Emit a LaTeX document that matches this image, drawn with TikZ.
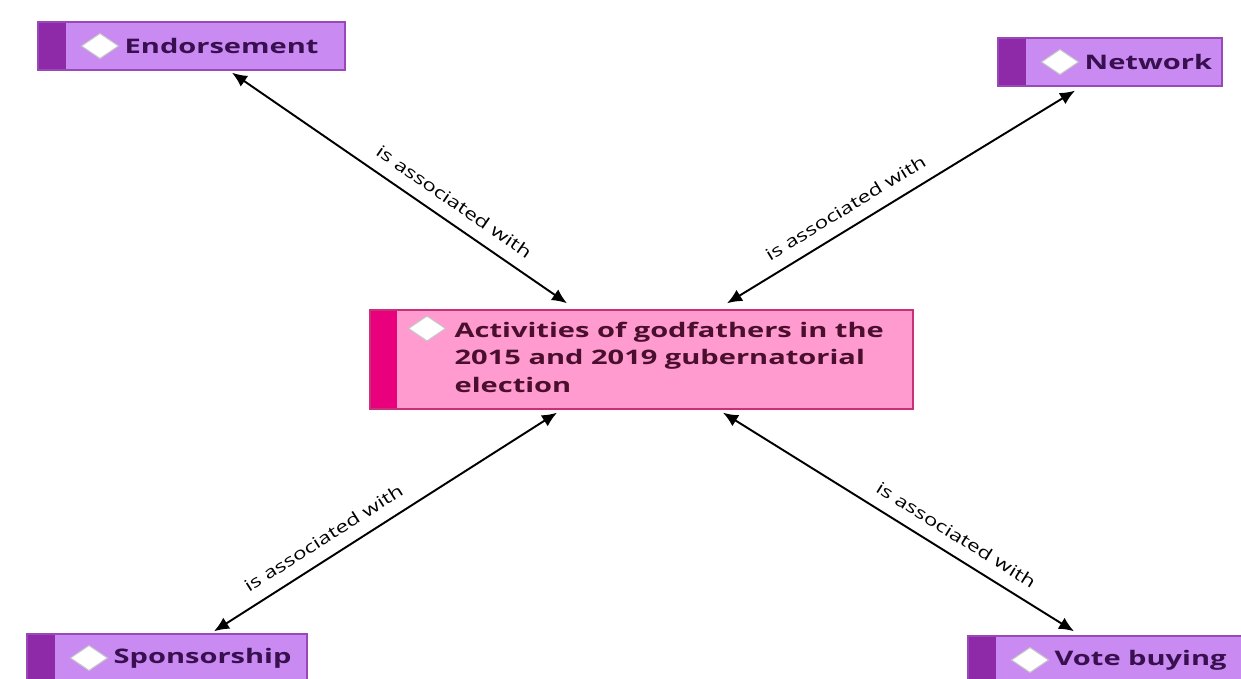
\documentclass[tikz,border=0pt]{standalone}
\usepackage{fontspec}
\usepackage{graphicx}
\setmainfont{Open Sans}
\usetikzlibrary{arrows.meta,positioning}
\definecolor{violetfill}{HTML}{C98AF2}
\definecolor{violetbar}{HTML}{8E2AA8}
\definecolor{violetline}{HTML}{9A48B8}
\definecolor{violettext}{HTML}{38104F}
\definecolor{pinkfill}{HTML}{FF9BCF}
\definecolor{pinkbar}{HTML}{E8007C}
\definecolor{pinkline}{HTML}{C8307A}
\definecolor{pinktext}{HTML}{4A0F2E}
\newcommand{\widetxt}[2][1.45]{\scalebox{#1}[1]{#2}}
\tikzset{
  code/.style={draw=violetline, fill=violetfill, line width=0.8pt,
    minimum height=0.96cm, inner sep=0pt,
    path picture={
      \fill[violetbar] (path picture bounding box.south west) rectangle
        ([xshift=0.56cm]path picture bounding box.north west);
      \draw[gray!45, fill=white, line width=0.6pt]
        ([xshift=1.24cm]path picture bounding box.west) ++(-0.37,0) -- ++(0.37,0.25)
        -- ++(0.37,-0.25) -- ++(-0.37,-0.25) -- cycle;}},
  topic/.style={draw=pinkline, fill=pinkfill, line width=0.8pt,
    minimum width=10.86cm, minimum height=1.98cm, inner sep=0pt,
    path picture={
      \fill[pinkbar] (path picture bounding box.south west) rectangle
        ([xshift=0.54cm]path picture bounding box.north west);
      \draw[gray!45, fill=white, line width=0.6pt]
        ([xshift=1.14cm, yshift=0.62cm]path picture bounding box.west) ++(-0.37,0)
        -- ++(0.37,0.25) -- ++(0.37,-0.25) -- ++(-0.37,-0.25) -- cycle;}},
  tag/.style={font=\fontsize{11.4}{13}\selectfont\bfseries, text=violettext,
    inner sep=0pt, anchor=west},
  assoc/.style={{Latex[length=3mm,width=2.6mm]}-{Latex[length=3mm,width=2.6mm]},
    line width=1.1pt, black},
  rel/.style={font=\fontsize{9.5}{11}\selectfont, sloped, above=7pt, inner sep=0pt}
}
\begin{document}
\begin{tikzpicture}
  \useasboundingbox (0,0) rectangle (24.82,13.58);
  % central code
  \node[topic] (act) at (12.83,6.39) {};
  \node[anchor=west, inner sep=0pt, text=pinktext,
        font=\fontsize{11.4}{15.6}\selectfont\bfseries]
       at ([xshift=1.7cm]act.west)
       {\widetxt{\begin{tabular}{@{}l@{}}Activities of godfathers in the\\
        2015 and 2019 gubernatorial\\election\end{tabular}}};
  % outer codes
  \node[code, minimum width=6.14cm] (endo) at (3.83,12.66) {};
  \node[tag, right=1.74cm of endo.west] {\widetxt{Endorsement}};
  \node[code, minimum width=4.48cm] (net) at (22.2,12.34) {};
  \node[tag, right=1.74cm of net.west] {\widetxt{Network}};
  \node[code, minimum width=5.6cm] (spon) at (3.34,0.42) {};
  \node[tag, right=1.74cm of spon.west] {\widetxt{Sponsorship}};
  \node[code, minimum width=5.56cm] (vote) at (22.14,0.38) {};
  \node[tag, right=1.74cm of vote.west] {\widetxt{Vote buying}};
  % links
  \draw[assoc] ([xshift=0.81cm, yshift=-0.04cm]endo.south)
    -- node[rel, pos=0.63] {\widetxt[1.35]{is associated with}} ([xshift=-1.49cm, yshift=0.12cm]act.north);
  \draw[assoc] ([xshift=1.71cm, yshift=0.12cm]act.north)
    -- node[rel, pos=0.37] {\widetxt[1.35]{is associated with}} ([xshift=-0.7cm, yshift=-0.08cm]net.south);
  \draw[assoc] ([xshift=0.94cm, yshift=0.04cm]spon.north)
    -- node[rel, pos=0.35] {\widetxt[1.35]{is associated with}} ([xshift=-1.69cm, yshift=-0.06cm]act.south);
  \draw[assoc] ([xshift=1.63cm, yshift=-0.06cm]act.south)
    -- node[rel, pos=0.635] {\widetxt[1.35]{is associated with}} ([xshift=-0.66cm, yshift=0.08cm]vote.north);
\end{tikzpicture}
\end{document}
